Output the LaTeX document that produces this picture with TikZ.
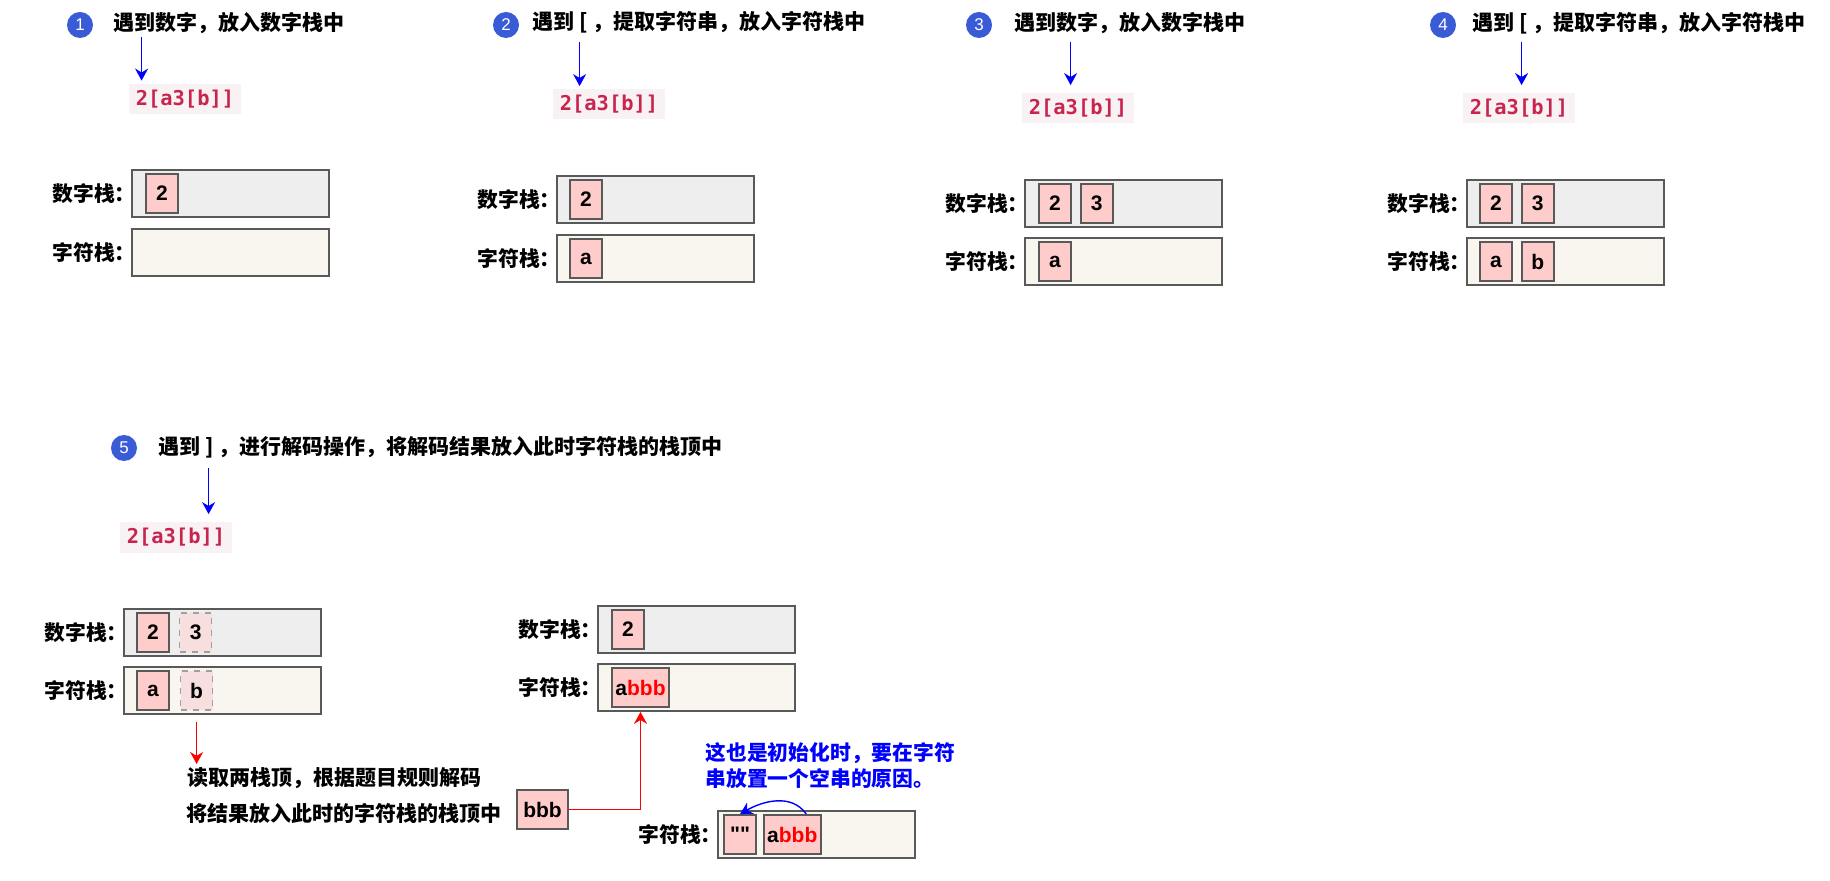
\documentclass[tikz,border=0pt]{standalone}
\usepackage{fontspec}
\setmainfont{Liberation Sans}
\newfontfamily\cjk{Noto Sans CJK SC}
\newfontfamily\codefont{DejaVu Sans Mono}
\newfontfamily\quotefont{Liberation Sans}[Ligatures=TeXOff]
\usetikzlibrary{arrows.meta,positioning,calc}

\definecolor{stepblue}{HTML}{3A5BD6}
\definecolor{numfill}{HTML}{EEEEEE}
\definecolor{charfill}{HTML}{F8F6EF}
\definecolor{elemfill}{HTML}{FFCCCC}
\definecolor{oldfill}{HTML}{F8DFDF}
\definecolor{edge}{HTML}{595959}
\definecolor{dashedge}{HTML}{A0A0A0}
\definecolor{codebg}{HTML}{F9F2F4}
\definecolor{codefg}{HTML}{C7254E}

\begin{document}
\begin{tikzpicture}[x=0.5pt, y=-0.5pt,
  stepnum/.style={circle, fill=stepblue, text=white, minimum size=13pt,
    inner sep=0pt, font=\fontsize{8.5pt}{9pt}\selectfont},
  title/.style={anchor=west, inner sep=0pt,
    font=\cjk\bfseries\fontsize{10.5pt}{12pt}\selectfont},
  code/.style={fill=codebg, text=codefg, minimum width=56pt, minimum height=15pt,
    inner sep=0pt, font=\codefont\bfseries\fontsize{10.2pt}{12pt}\selectfont},
  numstack/.style={draw=edge, line width=0.9pt, fill=numfill,
    minimum width=98.5pt, minimum height=23.5pt, inner sep=0pt},
  charstack/.style={numstack, fill=charfill},
  lbl/.style={inner sep=0pt, font=\cjk\bfseries\fontsize{10.4pt}{12pt}\selectfont},
  elem/.style={draw=edge, line width=0.9pt, fill=elemfill, minimum width=16pt,
    minimum height=19.5pt, inner sep=0pt, font=\bfseries\fontsize{10.5pt}{12pt}\selectfont},
  oldelem/.style={elem, draw=dashedge, fill=oldfill, dashed, line width=0.7pt},
  dec/.style={anchor=west, inner sep=0pt,
    font=\cjk\bfseries\fontsize{10.5pt}{12pt}\selectfont},
  note/.style={anchor=west, inner sep=0pt, align=left, text=blue,
    font=\cjk\bfseries\fontsize{10.4pt}{13pt}\selectfont},
  barr/.style={-{Stealth[length=6pt, width=6.5pt]}, blue, line width=0.7pt},
  rarr/.style={-{Stealth[length=6pt, width=6.5pt]}, red, line width=0.7pt},
]
\useasboundingbox (0,0) rectangle (1830,881);

% Step 1
\node[stepnum] (s1) at (80,25) {1};
\node[title] (t1) at (113,23) {遇到数字，放入数字栈中};
\node[code] (code1) at (185,99) {2[a3[b]]};
\coordinate (p1) at ($(code1.north west)+(13,-3)$);
\draw[barr] ([yshift=-1.5pt]t1.south -| p1) -- (p1);
\node[numstack] (ns1) at (230.5,193.5) {};
\node[charstack] (cs1) at (230.5,252.5) {};
\node[lbl, left=-2.5pt of ns1] {数字栈：};
\node[lbl, left=-2.5pt of cs1] {字符栈：};
\node[elem, right=7pt of ns1.west] (n1a) {2};

% Step 2
\node[stepnum] (s2) at (506,25) {2};
\node[title] (t2) at (532,22) {遇到 [ ，提取字符串，放入字符栈中};
\node[code] (code2) at (609,104.5) {2[a3[b]]};
\coordinate (p2) at ($(code2.north west)+(27,-3)$);
\draw[barr] ([yshift=-4.5pt]t2.south -| p2) -- (p2);
\node[numstack] (ns2) at (655.5,199.5) {};
\node[charstack] (cs2) at (655.5,258.5) {};
\node[lbl, left=-2.5pt of ns2] {数字栈：};
\node[lbl, left=-2.5pt of cs2] {字符栈：};
\node[elem, right=6.5pt of ns2.west] (n2a) {2};
\node[elem, right=6.5pt of cs2.west] (c2a) {a};

% Step 3
\node[stepnum] (s3) at (979,25) {3};
\node[title] (t3) at (1014,23) {遇到数字，放入数字栈中};
\node[code] (code3) at (1078,108.5) {2[a3[b]]};
\coordinate (p3) at ($(code3.north west)+(49,-8)$);
\draw[barr] ([yshift=-4pt]t3.south -| p3) -- (p3);
\node[numstack] (ns3) at (1123.5,203.5) {};
\node[charstack] (cs3) at (1123.5,261.5) {};
\node[lbl, left=-2.5pt of ns3] {数字栈：};
\node[lbl, left=-2.5pt of cs3] {字符栈：};
\node[elem, right=7pt of ns3.west] (n3a) {2};
\node[elem, right=4pt of n3a] (n3b) {3};
\node[elem, right=7pt of cs3.west] (c3a) {a};

% Step 4
\node[stepnum] (s4) at (1443,25) {4};
\node[title] (t4) at (1472,23) {遇到 [ ，提取字符串，放入字符栈中};
\node[code] (code4) at (1519,108.5) {2[a3[b]]};
\coordinate (p4) at ($(code4.north west)+(59,-8)$);
\draw[barr] ([yshift=-4pt]t4.south -| p4) -- (p4);
\node[numstack] (ns4) at (1565.5,203.5) {};
\node[charstack] (cs4) at (1565.5,261.5) {};
\node[lbl, left=-2.5pt of ns4] {数字栈：};
\node[lbl, left=-2.5pt of cs4] {字符栈：};
\node[elem, right=6.5pt of ns4.west] (n4a) {2};
\node[elem, right=4pt of n4a] (n4b) {3};
\node[elem, right=6.5pt of cs4.west] (c4a) {a};
\node[elem, right=4pt of c4a] (c4b) {b};

% Step 5
\node[stepnum] (s5) at (124,448) {5};
\node[title] (t5) at (158,447) {遇到 ] ，进行解码操作，将解码结果放入此时字符栈的栈顶中};
\node[code] (code5) at (176,537.5) {2[a3[b]]};
\coordinate (p5) at ($(code5.north west)+(89,-8)$);
\draw[barr] ([yshift=-5pt]t5.south -| p5) -- (p5);
\node[numstack] (ns5) at (222.5,632.5) {};
\node[charstack] (cs5) at (222.5,690.5) {};
\node[lbl, left=-2.5pt of ns5] {数字栈：};
\node[lbl, left=-2.5pt of cs5] {字符栈：};
\node[elem, right=6.5pt of ns5.west] (n5a) {2};
\node[oldelem, right=4.5pt of n5a] (n5b) {3};
\node[elem, right=6.5pt of cs5.west] (c5a) {a};
\node[oldelem, right=5pt of c5a] (c5b) {b};
\node[dec] (d1) at (187,778) {读取两栈顶，根据题目规则解码};
\node[dec] (d2) at (186,813) {将结果放入此时的字符栈的栈顶中};
\draw[rarr] ([yshift=-3.5pt]c5b.south |- cs5.south) -- ([yshift=1.5pt]c5b.south |- d1.north);

% result after decoding
\node[numstack] (ns6) at (696.5,629.5) {};
\node[charstack] (cs6) at (696.5,687.5) {};
\node[lbl, left=-2.5pt of ns6] {数字栈：};
\node[lbl, left=-2.5pt of cs6] {字符栈：};
\node[elem, right=7pt of ns6.west] (n6a) {2};
\node[elem, right=7pt of cs6.west, minimum width=28.5pt] (c6a) {a\textcolor{red}{bbb}};
\node[elem, minimum width=25.5pt] (bbb) at (542.5,809.5) {bbb};
\draw[rarr] (bbb) -| (c6a.south |- cs6.south);

% why the empty string
\node[charstack] (cs7) at (816.5,834.5) {};
\node[lbl, left=-2.5pt of cs7] {字符栈：};
\node[elem, right=3pt of cs7.west] (c7a) {\quotefont\bfseries ""};
\node[elem, right=3pt of c7a, minimum width=28.5pt] (c7b) {a\textcolor{red}{bbb}};
\node[note] (why) at (705,766) {这也是初始化时，要在字符\\串放置一个空串的原因。};
\draw[barr] ([xshift=7pt]c7b.north) to[out=125, in=30] (c7a.north);

\end{tikzpicture}
\end{document}
